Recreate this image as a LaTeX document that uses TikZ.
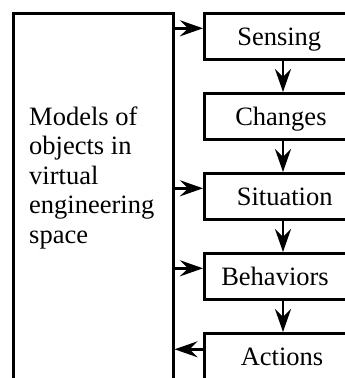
\documentclass[tikz,border=0pt]{standalone}
\usepackage{fontspec}
\setmainfont{Liberation Serif}
\usetikzlibrary{arrows.meta}
\begin{document}
\begin{tikzpicture}[x=1pt,y=-1pt,
  label font/.style={font=\fontsize{26.5}{29.5}\selectfont},
  frame/.style={draw, line width=2.6pt, inner sep=0pt},
  stagebox/.style={frame, label font, inner xsep=#1, inner ysep=0pt,
    text width=200pt, align=left, minimum height=46pt,
    text height=17.5pt, text depth=0pt, anchor=north west},
  flow/.style={-{Stealth[length=23pt,width=16pt,inset=8pt]}, line width=2.6pt}]
\useasboundingbox (0,0) rectangle (345,378);
\clip (0,0) rectangle (345,378);

% tall model box on the left (runs past the lower edge)
\node[frame, minimum width=160pt, minimum height=420pt, anchor=north west] (models) at (12,12) {};
\node[label font, align=left, anchor=base west, inner sep=0pt] (modelstext) at (29,243)
  {Models of\\objects in\\virtual\\engineering\\space};

% chain of stages on the right (they run past the right edge)
\node[stagebox=33pt]   (sensing)   at (203,12)  {Sensing};
\node[stagebox=31pt]   (changes)   at (203,92)  {Changes};
\node[stagebox=32.5pt] (situation) at (203,172) {Situation};
\node[stagebox=17pt]   (behaviors) at (203,252) {Behaviors};
\node[stagebox=36.5pt] (actions)   at (203,332) {Actions};

% downward flow between stages, along one vertical line
\coordinate (spine) at (283,0);
\draw[flow] (sensing.south -| spine)   -- (changes.north -| spine);
\draw[flow] (changes.south -| spine)   -- (situation.north -| spine);
\draw[flow] (situation.south -| spine) -- (behaviors.north -| spine);
\draw[flow] (behaviors.south -| spine) -- (actions.north -| spine);

% links between the model box and the stages
\coordinate (inS) at ([yshift=8pt]sensing.west);
\coordinate (inT) at ([yshift=8pt]situation.west);
\coordinate (inB) at ([yshift=8pt]behaviors.west);
\coordinate (outA) at ([yshift=7pt]actions.west);
\draw[flow] (models.east |- inS) -- (inS);
\draw[flow] (models.east |- inT) -- (inT);
\draw[flow] (models.east |- inB) -- (inB);
\draw[flow] (outA) -- (models.east |- outA);
\end{tikzpicture}
\end{document}
